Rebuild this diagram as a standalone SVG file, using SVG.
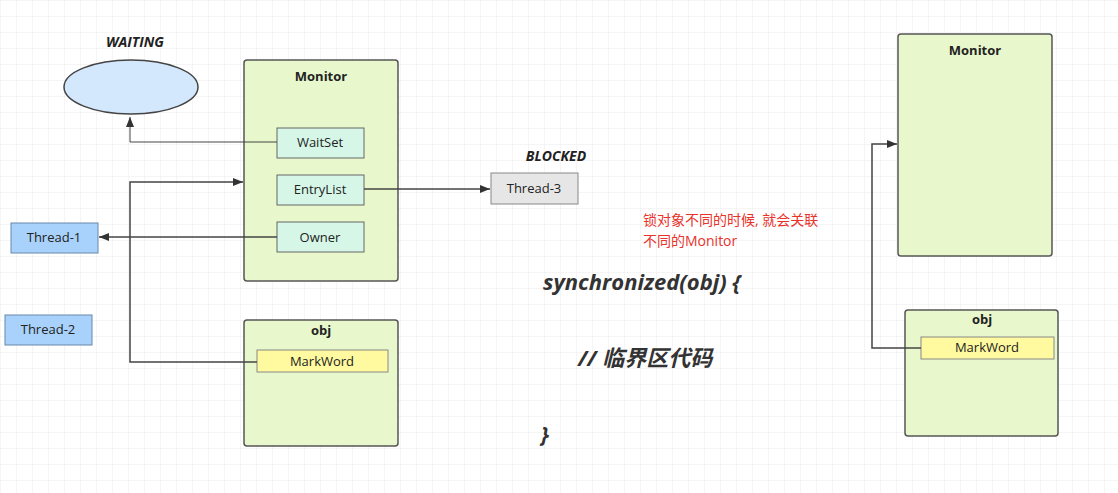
<svg xmlns="http://www.w3.org/2000/svg" width="1118" height="493" viewBox="0 0 1118 493">
<defs>
<pattern id="g" width="16" height="16" patternUnits="userSpaceOnUse"><path d="M16 0H0V16" fill="none" stroke="#ececec" stroke-width="1"/></pattern>
<marker id="a" viewBox="0 0 10 10" refX="10" refY="5" markerWidth="10" markerHeight="10" markerUnits="userSpaceOnUse" orient="auto"><path d="M0 1L10 5L0 9z" fill="#333"/></marker>
</defs>
<style>
text{font-family:"Open Sans","Liberation Sans","Noto Sans CJK SC",sans-serif;fill:#222;text-anchor:middle}
.big{fill:#e9f8cc;stroke:#555;stroke-width:1.5}
.in{fill:#d6f7e8;stroke:#666}
.mw{fill:#fffaa0;stroke:#888}
.bl{fill:#a8d2fb;stroke:#6688aa}
.lb{font-size:13px}
.hd{font-size:13px;font-weight:bold}
.c{fill:none;stroke:#444;stroke-width:1.5}
.st{font-size:14px;font-weight:bold;font-style:italic}
.code{font-size:22px;font-weight:bold;font-style:italic;text-anchor:start;fill:#333}
.red{font-size:14px;fill:#e8322a;text-anchor:start}
</style>
<rect width="1118" height="493" fill="#fff"/>
<rect width="1118" height="493" fill="url(#g)"/>
<g id="waiting"><text class="st" x="135" y="47">WAITING</text><ellipse cx="131" cy="87" rx="67" ry="27" fill="#d3e8fd" stroke="#444" stroke-width="1.5"/></g>
<g id="monitor1"><rect class="big" x="244" y="60" width="154" height="221" rx="3"/><text class="hd" x="321" y="81">Monitor</text></g>
<g id="waitset"><rect class="in" x="277" y="128" width="87" height="30"/><text class="lb" x="320" y="147">WaitSet</text></g>
<g id="entrylist"><rect class="in" x="277" y="175" width="87" height="30"/><text class="lb" x="320" y="194">EntryList</text></g>
<g id="owner"><rect class="in" x="277" y="222" width="87" height="30"/><text class="lb" x="320" y="242">Owner</text></g>
<g id="thread1"><rect class="bl" x="11" y="223" width="87" height="30"/><text class="lb" x="54" y="242">Thread-1</text></g>
<g id="thread2"><rect class="bl" x="5" y="315" width="87" height="30"/><text class="lb" x="48" y="334">Thread-2</text></g>
<g id="thread3"><text class="st" x="556" y="161">BLOCKED</text><rect x="491" y="173" width="87" height="31" fill="#e6e6e6" stroke="#888"/><text class="lb" x="534" y="193">Thread-3</text></g>
<g id="obj1"><rect class="big" x="244" y="320" width="154" height="126" rx="3"/><text class="hd" x="321" y="335">obj</text><rect class="mw" x="257" y="350" width="131" height="22"/><text class="lb" x="322" y="366">MarkWord</text></g>
<g id="monitor2"><rect class="big" x="898" y="34" width="154" height="222" rx="3"/><text class="hd" x="975" y="55">Monitor</text></g>
<g id="obj2"><rect class="big" x="905" y="310" width="153" height="126" rx="3"/><text class="hd" x="982" y="324">obj</text><rect class="mw" x="921" y="337" width="133" height="22"/><text class="lb" x="987" y="352">MarkWord</text></g>
<g id="connectors">
<path class="c" style="stroke-width:1" d="M277 142H130V117" marker-end="url(#a)"/>
<path class="c" d="M364 189H490" marker-end="url(#a)"/>
<path class="c" d="M277 237H99" marker-end="url(#a)"/>
<path class="c" d="M257 362H130V182H243" marker-end="url(#a)"/>
<path class="c" d="M921 348H872V144H897" marker-end="url(#a)"/>
</g>
<text class="red" x="643" y="225">锁对象不同的时候, 就会关联</text>
<text class="red" x="643" y="246">不同的Monitor</text>
<text class="code" x="543" y="290">synchronized(obj) {</text>
<text class="code" x="578" y="366">// 临界区代码</text>
<text class="code" x="541" y="442">}</text>
</svg>
